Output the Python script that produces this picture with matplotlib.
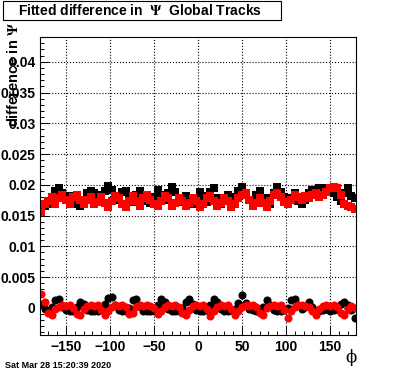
import numpy as np
import matplotlib
matplotlib.use('Agg')
import matplotlib.pyplot as plt
from matplotlib.patches import Rectangle
from matplotlib.ticker import MultipleLocator

plt.rcParams['font.family'] = ['Liberation Sans', 'DejaVu Sans']
plt.rcParams['font.weight'] = 'bold'
plt.rcParams['mathtext.fontset'] = 'stix'

# bin centres in phi (degrees)
phi = np.arange(-178, 179, 4)

# values below are in units of 1e-4
black_upper = [164, 166, 168, 174, 190, 194, 186, 176, 182, 174,
               168, 166, 176, 186, 190, 186, 180, 184, 190, 198,
               192, 182, 176, 188, 190, 180, 172, 184, 190, 180,
               174, 170, 180, 192, 184, 176, 186, 196, 188, 176,
               172, 182, 176, 168, 178, 188, 182, 172, 188, 194,
               178, 168, 174, 184, 180, 170, 190, 197, 186, 176,
               168, 184, 190, 174, 178, 168, 186, 196, 188, 180,
               170, 178, 186, 174, 168, 176, 186, 192, 190, 194,
               192, 194, 190, 186, 180, 174, 186, 194, 182, 178]
red_upper = [155, 168, 174, 180, 168, 178, 184, 176, 168, 180,
             184, 176, 168, 176, 180, 168, 172, 180, 170, 164,
             174, 182, 178, 168, 164, 174, 182, 174, 166, 178,
             184, 176, 168, 166, 174, 182, 178, 166, 170, 178,
             174, 166, 170, 178, 174, 164, 168, 178, 182, 174,
             166, 170, 178, 174, 164, 168, 178, 184, 186, 176,
             166, 170, 178, 170, 164, 174, 184, 186, 180, 172,
             168, 176, 184, 180, 176, 182, 178, 184, 186, 180,
             184, 188, 194, 196, 194, 184, 168, 166, 164, 160]
black_lower = [6, -2, -6, 2, 12, 14, 2, -4, -6, -5,
               2, 10, 6, -3, -6, -5, -6, -2, 6, 16,
               18, 4, -4, -6, -5, 0, 12, 15, 3, -5,
               -6, -5, -6, 4, 14, 10, -2, -5, -6, -5,
               0, 10, 15, 6, -4, -6, -5, -4, 4, 14,
               10, -2, -5, -6, -4, -2, 8, 20, 8, -2,
               -4, -5, -6, 2, 12, 4, -4, -6, -5, -4,
               0, 12, 15, 4, -2, 2, 9, 2, -5, -6,
               -4, -2, -6, -4, -2, 6, 10, 4, -4, -16]
red_lower = [23, 10, -8, -12, -2, 2, 4, 3, 4, 0,
             -10, -12, -2, 3, 4, 3, 4, -4, -11, -6,
             2, 4, 3, 4, 2, -10, -8, 1, 4, 3,
             4, 3, 0, -10, -6, 2, 4, 3, 4, 2,
             -8, -12, -3, 3, 4, 3, 4, -2, -14, -6,
             2, 4, 3, 4, -2, -12, -5, 2, 4, 3,
             4, 2, -8, -11, 0, 3, 4, 3, 4, -4,
             -16, -6, 2, 4, 4, 3, 2, -6, -12, -2,
             3, 4, 3, 4, 2, -8, -12, -2, 3, 0]

title = r'Fitted difference in  $\Psi$  Global Tracks'
ytitle = r'difference in $\Psi$'
xtitle = '\u03d5'
stamp = 'Sat Mar 28 15:20:39 2020'

fig = plt.figure(figsize=(3.96, 3.72), dpi=100)
ax = fig.add_axes([0.1, 0.1, 0.8, 0.8])

s = 1e-4
ax.plot(phi, np.array(black_upper) * s, 's', color='black', ms=5.2, mew=0)
ax.plot(phi, np.array(red_upper) * s, 's', color='red', ms=5.2, mew=0)
ax.plot(phi, np.array(black_lower) * s, 'o', color='black', ms=5.8, mew=0)
ax.plot(phi, np.array(red_lower) * s, 'o', color='red', ms=5.8, mew=0)

ax.set_xlim(-180, 180)
ax.set_ylim(-0.0044, 0.044)
ax.xaxis.set_major_locator(MultipleLocator(50))
ax.xaxis.set_minor_locator(MultipleLocator(10))
ax.yaxis.set_major_locator(MultipleLocator(0.005))
ax.yaxis.set_minor_locator(MultipleLocator(0.001))
ax.yaxis.set_major_formatter(plt.FuncFormatter(lambda v, p: '0' if abs(v) < 1e-9 else ('%g' % v)))
ax.tick_params(which='both', direction='in', top=False, right=False, labelsize=10)
ax.tick_params(which='major', length=6.5, width=0.7)
ax.tick_params(which='minor', length=3.2, width=0.7)
ax.tick_params(axis='y', pad=3)
ax.tick_params(axis='x', pad=4)
ax.grid(True, which='major', linestyle=':', color='black', linewidth=0.8)
for sp in ax.spines.values():
    sp.set_linewidth(0.8)

# title box like ROOT's pave
fig.patches.append(Rectangle((3 / 396, 1 - 20 / 372), 278 / 396, 19 / 372,
                             transform=fig.transFigure, facecolor='white',
                             edgecolor='black', linewidth=0.8))
fig.text(140 / 396, 1 - 10.5 / 372, title, ha='center', va='center', fontsize=10)
fig.text(13 / 396, 1 - 22 / 372, ytitle, rotation=90, ha='center', va='top', fontsize=10.5)
fig.text(357 / 396, 1 - 357 / 372, xtitle, ha='right', va='center', fontsize=12,
         family='DejaVu Serif', weight='normal')
fig.text(5 / 396, 1 - 365 / 372, stamp, ha='left', va='center', fontsize=6.5)

fig.savefig('out.png', dpi=100)
